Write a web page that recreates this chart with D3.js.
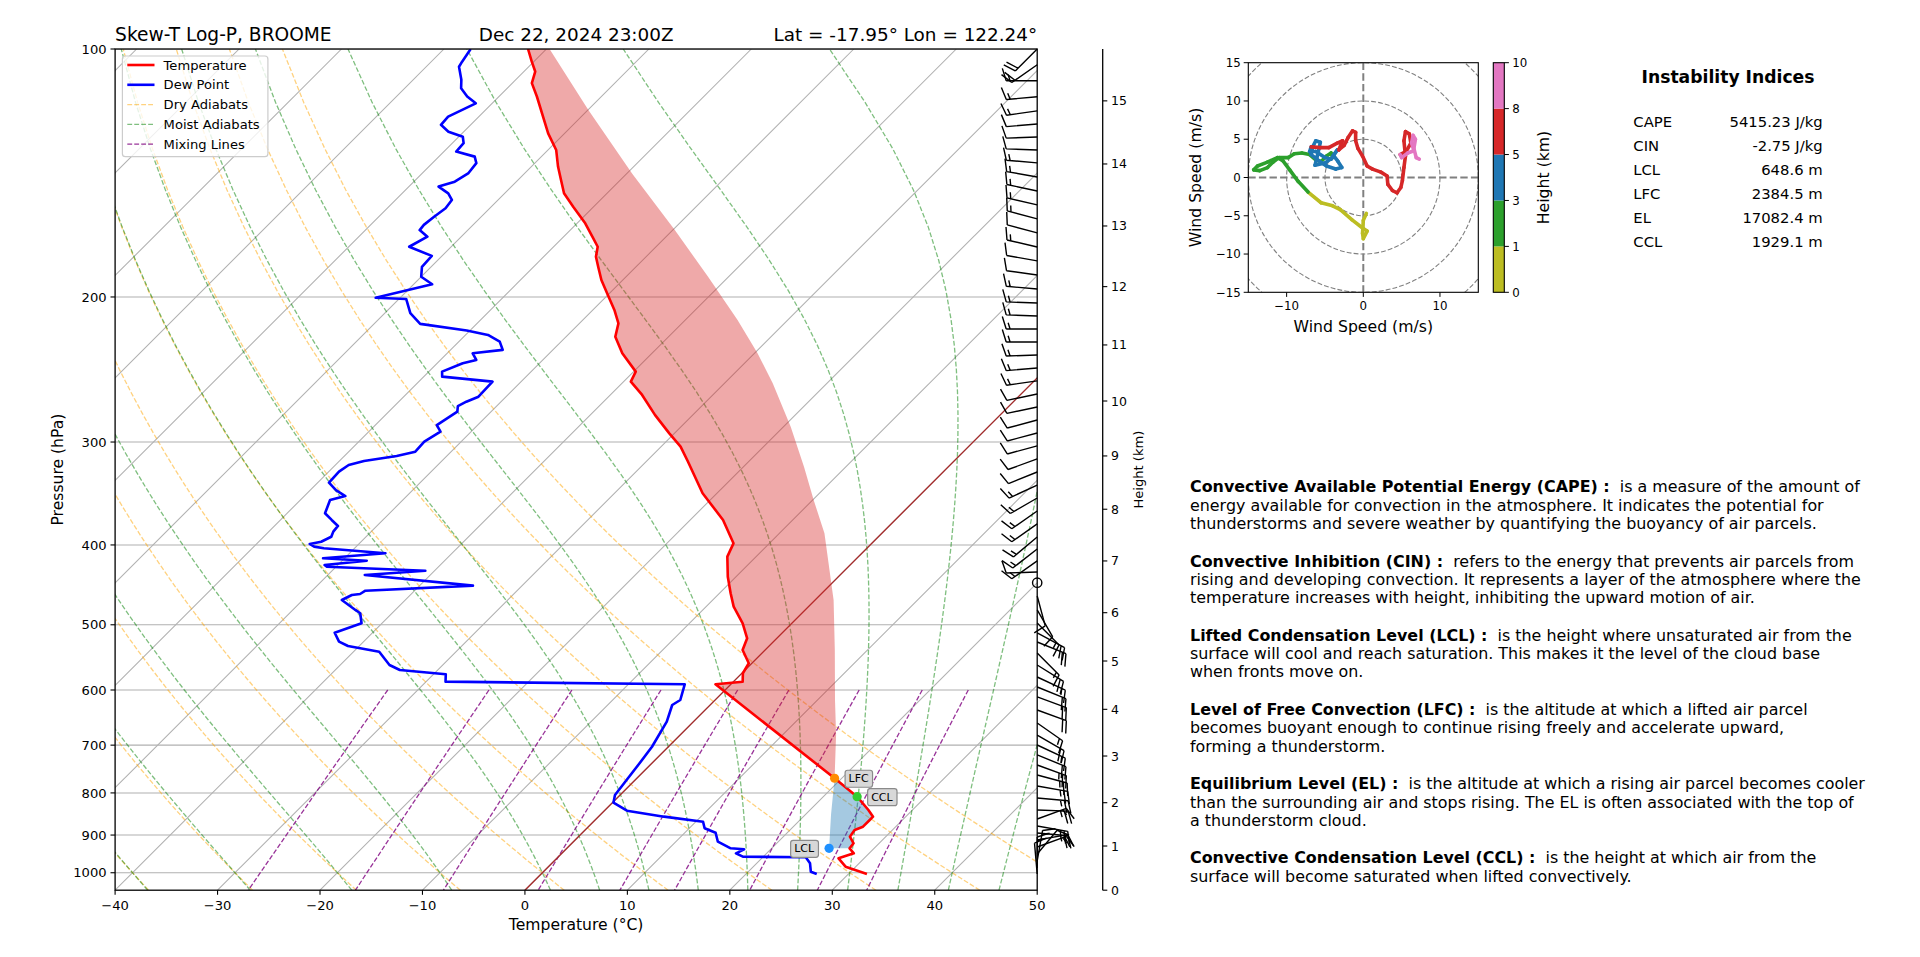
<!DOCTYPE html>
<html><head><meta charset="utf-8">
<script src="https://cdn.jsdelivr.net/npm/d3@7"></script>
<style>body{margin:0;background:#fff} svg text{font-family:"DejaVu Sans",sans-serif;fill:#000}</style>
</head><body>
<svg id="c" width="1920" height="957" xmlns="http://www.w3.org/2000/svg"></svg>
<script>
// ================= DATA =================
const tempP = [1003.5,983.2,960.5,947.1,934.0,921.0,904.2,887.3,879.2,862.9,854.9,839.2,808.5,767.9,590.5,586.2,572.6,556.8,536.5,519.2,497.9,475.3,457.9,437.1,413.3,398.2,373.0,346.2,317.0,303.9,292.8,278.1,263.0,253.4,246.4,234.1,223.5,215.3,207.4,198.9,190.7,183.8,178.7,173.8,169.0,162.8,155.4,149.7,144.2,138.9,132.6,126.6,114.2,110.0,106.5,103.6,100.0];
const tempT = [31.8,29.0,27.5,28.5,27.6,27.5,26.5,26.3,26.8,26.8,26.8,25.7,23.3,19.3,-1.5,0.9,0.1,-0.3,-2.2,-2.9,-4.8,-7.3,-8.9,-10.8,-12.8,-13.5,-16.8,-21.4,-25.9,-28.1,-30.5,-33.7,-36.9,-39.3,-39.8,-42.9,-45.2,-46.2,-47.9,-50.0,-52.1,-53.7,-54.9,-55.7,-57.2,-59.2,-62.0,-64.2,-65.8,-67.4,-69.2,-71.6,-76.3,-78.1,-78.9,-80.2,-81.8];

const dewP = [1003.5,997.1,973.9,957.7,956.1,947.1,936.6,934.0,916.9,894.1,883.2,867.0,854.9,840.8,822.2,804.7,736.4,703.1,655.6,625.7,617.0,590.5,586.2,574.2,567.4,559.5,539.1,530.6,524.2,511.2,497.9,484.2,479.7,466.5,460.1,458.8,454.6,448.2,435.0,429.9,425.1,423.0,418.0,415.2,409.4,403.7,401.9,398.9,396.4,390.9,385.4,379.3,373.0,366.1,352.8,348.9,343.1,336.1,325.9,319.9,316.3,311.9,308.2,299.7,291.4,286.1,275.6,271.3,268.0,264.3,253.4,249.9,246.4,240.7,238.5,234.1,231.9,226.6,222.4,219.7,215.6,209.3,201.1,200.4,193.0,189.0,183.8,178.3,173.8,169.0,165.9,163.5,159.8,156.1,152.5,149.7,146.9,144.9,141.6,137.6,135.1,133.2,130.1,127.8,126.0,123.6,120.8,116.4,114.2,111.6,109.0,105.1,103.6,100.0];
const dewT = [26.9,26.1,25.2,24.2,18.0,17.0,17.4,16.0,14.1,13.0,11.5,10.7,6.4,2.2,0.1,-0.5,-1.2,-1.6,-2.6,-3.7,-3.4,-4.5,-28.1,-28.8,-33.7,-35.2,-37.5,-41.1,-42.4,-43.7,-42.0,-43.1,-43.9,-46.2,-45.7,-45.0,-44.8,-34.8,-46.4,-40.9,-50.9,-51.3,-47.6,-52.1,-46.5,-53.0,-54.1,-54.8,-53.9,-53.4,-53.7,-53.8,-55.0,-56.3,-57.1,-56.0,-57.5,-58.9,-59.0,-58.7,-57.6,-54.9,-53.5,-53.6,-53.0,-54.0,-53.3,-53.8,-53.4,-52.7,-52.8,-58.2,-58.7,-57.5,-56.5,-57.5,-54.9,-56.0,-57.8,-60.3,-65.5,-67.5,-69.3,-72.4,-68.2,-70.0,-70.9,-71.0,-74.1,-73.3,-74.7,-74.8,-74.6,-74.3,-74.5,-75.5,-77.1,-76.0,-75.5,-75.7,-76.5,-78.8,-78.9,-79.6,-81.5,-82.9,-83.0,-81.6,-83.1,-84.5,-85.3,-86.8,-87.0,-87.4];

const parcelP = [1003.5,934.0,850.0,767.9,680.0,617.0,536.5,466.5,387.2,352.8,321.4,287.4,254.5,234.1,213.3,189.0,165.9,141.6,118.5,100.0];
const parcelT = [31.8,25.6,22.5,19.3,15.2,11.7,6.8,1.8,-5.6,-9.9,-14.1,-19.3,-25.3,-29.7,-34.9,-42.0,-49.8,-59.5,-70.0,-79.7];

const levelNames = ["LCL","LFC","CCL"];
const levelP = [934.0,767.9,808.5];
const levelT = [25.6,19.3,23.3];
const levelColors = ["#1e90ff","#ff8c00","#32cd32"];

const pTicks = [100,200,300,400,500,600,700,800,900,1000];
const tTicks = [-40,-30,-20,-10,0,10,20,30,40,50];
const isoT = [-130,-120,-110,-100,-90,-80,-70,-60,-50,-40,-30,-20,-10,0,10,20,30,40,50];
const dryT0 = [-40,-30,-20,-10,0,10,20,30,40,50];
const moistT0 = [-40,-30,-20,-10,0,5,10,15,20,25,30,35,40,45,50];
const mixRatios = [0.0004,0.001,0.002,0.004,0.007,0.01,0.016,0.024,0.032];

const heightTicks = [0,1,2,3,4,5,6,7,8,9,10,11,12,13,14,15];
const heightTickP = [1050,928.0,822.2,721.6,633.3,553.3,483.4,418.3,362.0,311.9,267.5,228.7,194.3,164.0,137.9,115.6];

const barbP = [100.0,104.5,109.3,114.3,118.9,123.3,127.9,132.6,137.5,143.0,148.7,154.6,160.8,167.2,173.9,180.8,188.1,195.6,203.4,210.9,218.7,226.8,235.2,243.9,252.9,262.3,272.0,282.1,292.5,303.3,314.5,326.2,338.3,350.8,363.8,377.2,391.2,404.5,418.3,431.4,444.5,461.3,479.7,497.5,511.6,524.7,541.0,559.5,578.6,595.0,611.8,634.5,658.0,680.5,699.7,719.5,739.9,760.9,784.7,811.5,839.2,860.5,877.5,894.8,912.5,930.5,948.9,967.7,986.8,1003.5];
const barbDir = [225,235,270,265,262,265,268,272,275,280,282,283,285,285,283,280,278,275,272,272,270,270,268,265,262,258,258,255,255,255,250,248,245,240,235,235,230,232,235,268,0,165,150,135,118,112,135,122,115,112,110,110,125,120,115,112,110,105,100,95,92,70,100,95,80,70,40,10,0,355];
const barbSpd = [20,20,15,15,15,10,10,10,15,15,15,15,15,10,15,10,10,15,15,15,15,15,15,15,15,10,10,10,10,10,10,10,15,15,15,15,15,15,15,10,0,10,10,15,20,20,15,20,15,20,20,20,15,20,15,20,25,25,25,25,25,15,25,25,20,15,10,15,15,10];

const hodoH = [0.0,0.1,0.2,0.3,0.4,0.5,0.6,0.7,0.8,0.9,1.0,1.1,1.2,1.3,1.4,1.5,1.6,1.7,1.8,1.9,2.0,2.1,2.2,2.3,2.4,2.5,2.6,2.7,2.8,2.9,3.0,3.1,3.2,3.3,3.4,3.5,3.6,3.7,3.8,3.9,4.0,4.1,4.2,4.3,4.4,4.5,4.6,4.7,4.8,5.0,5.1,5.2,5.3,5.4,5.5,5.6,5.7,5.8,5.9,6.0,6.1,6.2,6.3,6.4,6.5,6.6,6.7,6.8,6.9,7.0,7.1,7.2,7.3,7.4,7.5,7.6,7.7,7.8,8.0,8.2,8.4,8.6,8.8,9.0,9.2,9.4,9.6,9.8];
const hodoU = [0.4,0.0,-0.1,0.0,0.5,-0.1,-1.5,-3.0,-4.0,-5.5,-7.2,-8.5,-9.6,-10.5,-11.2,-12.5,-13.8,-14.3,-13.5,-12.5,-11.8,-11.0,-9.8,-9.0,-8.0,-7.0,-6.2,-5.5,-4.8,-4.2,-4.0,-5.0,-6.3,-6.0,-5.6,-6.2,-6.6,-6.8,-5.8,-4.8,-3.6,-2.8,-3.3,-3.9,-3.4,-4.2,-5.0,-6.2,-7.0,-6.8,-5.6,-4.5,-3.4,-2.7,-3.2,-2.5,-2.0,-1.4,-1.0,-1.0,-0.7,-0.1,0.5,1.2,2.3,3.1,3.2,3.8,4.4,4.9,5.1,5.3,5.5,5.3,5.5,6.0,6.2,5.6,4.8,5.0,5.8,6.6,6.3,6.5,6.8,6.6,6.9,7.3];
const hodoV = [-4.7,-5.6,-7.3,-8.0,-7.0,-6.6,-5.5,-4.2,-3.7,-3.3,-1.9,-0.5,1.0,2.2,2.6,2.0,1.5,1.0,0.9,1.3,2.0,2.6,2.6,3.1,3.2,3.0,2.3,2.1,2.8,3.2,2.6,1.9,1.6,2.8,4.6,4.8,4.0,3.0,2.2,1.5,1.1,1.3,2.1,2.9,3.6,2.4,2.6,3.4,3.4,4.0,3.9,3.9,4.5,4.8,3.6,4.2,5.2,6.1,5.9,4.8,3.8,2.8,1.5,1.1,0.7,0.2,-0.9,-1.7,-2.0,-1.3,-0.4,1.3,2.8,4.8,6.0,5.7,4.5,3.4,3.0,2.6,3.2,3.5,4.5,5.5,5.0,3.8,2.6,2.4];
const hodoBounds = [0,1,3,5,8,10];
const hodoColors = ["#bcbd22","#2ca02c","#1f77b4","#d62728","#e377c2"];
const hodoTicksX = [-10,0,10];
const hodoTicksY = [-15,-10,-5,0,5,10,15];
const hodoRings = [5,10,15,20];

const indexNames = ["CAPE","CIN","LCL","LFC","EL","CCL"];
const indexValues = ["5415.23 J/kg","-2.75 J/kg","648.6 m","2384.5 m","17082.4 m","1929.1 m"];

const descriptions = [
  {b:"Convective Available Potential Energy (CAPE) :", lines:["  is a measure of the amount of","energy available for convection in the atmosphere. It indicates the potential for","thunderstorms and severe weather by quantifying the buoyancy of air parcels."]},
  {b:"Convective Inhibition (CIN) :", lines:["  refers to the energy that prevents air parcels from","rising and developing convection. It represents a layer of the atmosphere where the","temperature increases with height, inhibiting the upward motion of air."]},
  {b:"Lifted Condensation Level (LCL) :", lines:["  is the height where unsaturated air from the","surface will cool and reach saturation. This makes it the level of the cloud base","when fronts move on."]},
  {b:"Level of Free Convection (LFC) :", lines:["  is the altitude at which a lifted air parcel","becomes buoyant enough to continue rising freely and accelerate upward,","forming a thunderstorm."]},
  {b:"Equilibrium Level (EL) :", lines:["  is the altitude at which a rising air parcel becomes cooler","than the surrounding air and stops rising. The EL is often associated with the top of","a thunderstorm cloud."]},
  {b:"Convective Condensation Level (CCL) :", lines:["  is the height at which air from the","surface will become saturated when lifted convectively."]}
];

// ================= LAYOUT =================
const svg = d3.select("#c");
const PL=115.1, PR=1037.2, PT=49, PB=890.2;
const x = d3.scaleLinear().domain([-40,50]).range([PL,PR]);
const y = d3.scaleLog().domain([1050,100]).range([PB,PT]);
const X = (T,p) => x(T) + (PB - y(p));

svg.append("defs").append("clipPath").attr("id","plotclip")
  .append("rect").attr("x",PL).attr("y",PT).attr("width",PR-PL).attr("height",PB-PT);
const plot = svg.append("g").attr("clip-path","url(#plotclip)");

const line = d3.line().x(d=>X(d[1],d[0])).y(d=>y(d[0]));
const pz = (P,T)=>P.map((p,i)=>[p,T[i]]);

// isotherms
isoT.forEach(t=>{
  plot.append("line").attr("x1",X(t,1050)).attr("y1",PB).attr("x2",X(t,100)).attr("y2",PT)
    .attr("stroke","#b0b0b0").attr("stroke-width",1.05);
});
// pressure grid
pTicks.forEach(p=>{
  plot.append("line").attr("x1",PL).attr("x2",PR).attr("y1",y(p)).attr("y2",y(p))
    .attr("stroke","#b0b0b0").attr("stroke-width",1.05);
});

// sample pressures for reference curves
const pLev = d3.range(0,60).map(i=>1050 - i*(950/59));
// dry adiabats
dryT0.forEach(t0=>{
  const pts = pLev.map(p=>[p,(t0+273.15)*Math.pow(p/1000,0.28571)-273.15]);
  plot.append("path").attr("d",line(pts)).attr("fill","none").attr("stroke","orange")
    .attr("stroke-opacity",0.5).attr("stroke-width",1.31).attr("stroke-dasharray","4.85,2.1");
});
// moist adiabats
const Rd=287.04749, Cp=1004.6662, Lv=2.50084e6, eps=0.6219569;
function fm(p,T){const es=6.112*Math.exp(17.67*(T-273.15)/(T-29.65));const rs=eps*es/(p-es);return (Rd*T+Lv*rs)/(Cp+Lv*Lv*rs*eps/(Rd*T*T))/p;}
function integ(T,p0,p1){const n=Math.max(1,Math.ceil(Math.abs(p1-p0)/3));const h=(p1-p0)/n;let p=p0;for(let i=0;i<n;i++){const k1=fm(p,T),k2=fm(p+h/2,T+h/2*k1),k3=fm(p+h/2,T+h/2*k2),k4=fm(p+h,T+h*k3);T+=h/6*(k1+2*k2+2*k3+k4);p+=h;}return T;}
moistT0.forEach(t0=>{
  const pts = pLev.map(p=>[p,integ(t0+273.15,1000,p)-273.15]);
  plot.append("path").attr("d",line(pts)).attr("fill","none").attr("stroke","green")
    .attr("stroke-opacity",0.5).attr("stroke-width",1.31).attr("stroke-dasharray","4.85,2.1");
});
// mixing lines
const pMix = d3.range(0,30).map(i=>600 + i*(450/29));
mixRatios.forEach(w=>{
  const pts = pMix.map(p=>{const e=p*w/(eps+w);const v=Math.log(e/6.112);return [p,243.5*v/(17.67-v)];});
  plot.append("path").attr("d",line(pts)).attr("fill","none").attr("stroke","purple")
    .attr("stroke-opacity",0.8).attr("stroke-width",1.31).attr("stroke-dasharray","4.85,2.1");
});
// 0 degC isotherm
plot.append("line").attr("x1",X(0,1050)).attr("y1",PB).attr("x2",X(0,100)).attr("y2",PT)
  .attr("stroke","#a52a2a").attr("stroke-width",1.31);

// CAPE / CIN shading
const lfcP = levelP[1], lclP = levelP[0];
const capeA = pz(parcelP,parcelT).filter(d=>d[0]<=lfcP);
const capeB = pz(tempP,tempT).filter(d=>d[0]<=lfcP).reverse();
plot.append("path").attr("d",d3.line().curve(d3.curveLinear).x(d=>X(d[1],d[0])).y(d=>y(d[0]))(capeA.concat(capeB))+"Z").attr("fill","#d62728").attr("fill-opacity",0.4);
const cinA = pz(parcelP,parcelT).filter(d=>d[0]<=lclP && d[0]>=lfcP);
const cinB = pz(tempP,tempT).filter(d=>d[0]<=lclP && d[0]>=lfcP).reverse();
plot.append("path").attr("d",line(cinA.concat(cinB))+"Z").attr("fill","#1f77b4").attr("fill-opacity",0.4);

// profiles
plot.append("path").attr("d",line(pz(tempP,tempT))).attr("fill","none").attr("stroke","red").attr("stroke-width",2.6).attr("stroke-linejoin","round");
plot.append("path").attr("d",line(pz(dewP,dewT))).attr("fill","none").attr("stroke","blue").attr("stroke-width",2.6).attr("stroke-linejoin","round");

// level markers
levelNames.forEach((nm,i)=>{
  const cx=X(levelT[i],levelP[i]), cy=y(levelP[i]);
  svg.append("circle").attr("cx",cx).attr("cy",cy).attr("r",4.6).attr("fill",levelColors[i]);
  const left = nm==="LCL";
  const g = svg.append("g");
  const t = g.append("text").attr("x", left? cx-15 : cx+14).attr("y",cy+4).attr("font-size",11)
    .attr("text-anchor", left?"end":"start").text(nm);
  const bb = t.node().getBBox();
  g.insert("rect","text").attr("x",bb.x-3.5).attr("y",bb.y-2).attr("width",bb.width+7).attr("height",bb.height+4)
    .attr("rx",2.5).attr("fill","#d8d8d8").attr("stroke","#8a8a8a").attr("stroke-width",1.2);
});

// spines
svg.append("rect").attr("x",PL).attr("y",PT).attr("width",PR-PL).attr("height",PB-PT)
  .attr("fill","none").attr("stroke","#000").attr("stroke-width",1.3);

// axes ticks
pTicks.forEach(p=>{
  svg.append("line").attr("x1",PL-4.6).attr("x2",PL).attr("y1",y(p)).attr("y2",y(p)).attr("stroke","#000").attr("stroke-width",1.1);
  svg.append("text").attr("x",PL-8.5).attr("y",y(p)+4.7).attr("text-anchor","end").attr("font-size",13.1).text(p);
});
tTicks.forEach(t=>{
  svg.append("line").attr("x1",x(t)).attr("x2",x(t)).attr("y1",PB).attr("y2",PB+4.6).attr("stroke","#000").attr("stroke-width",1.1);
  svg.append("text").attr("x",x(t)).attr("y",PB+19.5).attr("text-anchor","middle").attr("font-size",13.1).text(String(t).replace("-","\u2212"));
});
svg.append("text").attr("x",(PL+PR)/2).attr("y",930).attr("text-anchor","middle").attr("font-size",15.6).text("Temperature (°C)");
svg.append("text").attr("transform",`translate(63,${(PT+PB)/2}) rotate(-90)`).attr("text-anchor","middle").attr("font-size",15.6).text("Pressure (hPa)");

// titles
svg.append("text").attr("x",PL).attr("y",40.5).attr("font-size",18.6).text("Skew-T Log-P, BROOME");
svg.append("text").attr("x",(PL+PR)/2).attr("y",40.5).attr("text-anchor","middle").attr("font-size",18.4).text("Dec 22, 2024 23:00Z");
svg.append("text").attr("x",PR).attr("y",40.5).attr("text-anchor","end").attr("font-size",18.4).text("Lat = -17.95° Lon = 122.24°");

// legend
const lg = svg.append("g");
lg.append("rect").attr("x",122.4).attr("y",56).attr("width",145.5).attr("height",100.7).attr("rx",3)
  .attr("fill","#fff").attr("fill-opacity",0.8).attr("stroke","#cccccc").attr("stroke-width",1.2);
const legItems = [
  {n:"Temperature",c:"red",o:1,w:2.6,d:null},
  {n:"Dew Point",c:"blue",o:1,w:2.6,d:null},
  {n:"Dry Adiabats",c:"orange",o:0.5,w:1.31,d:"4.85,2.1"},
  {n:"Moist Adiabats",c:"green",o:0.5,w:1.31,d:"4.85,2.1"},
  {n:"Mixing Lines",c:"purple",o:0.8,w:1.31,d:"4.85,2.1"}];
legItems.forEach((it,i)=>{
  const cy = 65 + i*19.8;
  const l = lg.append("line").attr("x1",127.3).attr("x2",154.5).attr("y1",cy).attr("y2",cy)
    .attr("stroke",it.c).attr("stroke-opacity",it.o).attr("stroke-width",it.w);
  if(it.d) l.attr("stroke-dasharray",it.d);
  lg.append("text").attr("x",163.6).attr("y",cy+4.6).attr("font-size",13.1).text(it.n);
});

// wind barbs
const bg = svg.append("g");
function barb(bx,by,spd,dir){
  const L=31, Hh=0.4*L, Ww=0.25*L, sp=0.125*L;
  const mag = 5*Math.floor(spd/5+0.5);
  if(mag<5){
    bg.append("circle").attr("cx",bx).attr("cy",by).attr("r",0.15*L).attr("fill","none").attr("stroke","#000").attr("stroke-width",1.4);
    return;
  }
  const r = dir*Math.PI/180;
  const sx=Math.sin(r), sy=-Math.cos(r);
  const px=Math.cos(r), py=Math.sin(r);
  const nflag=Math.floor(mag/50); const rem=mag-50*nflag;
  const nbarb=Math.floor(rem/10); const half=(rem-10*nbarb)>=5;
  let d=`M${bx},${by}L${bx+sx*L},${by+sy*L}`;
  let off=L;
  for(let i=0;i<nflag;i++){
    const ax=bx+sx*off, ay=by+sy*off;
    d+=`M${ax},${ay}L${ax+px*Hh-sx*Ww/2},${ay+py*Hh-sy*Ww/2}L${ax-sx*Ww},${ay-sy*Ww}Z`;
    off-=Ww+sp;
  }
  for(let i=0;i<nbarb;i++){
    const ax=bx+sx*off, ay=by+sy*off;
    d+=`M${ax},${ay}L${ax+px*Hh+sx*Ww/2},${ay+py*Hh+sy*Ww/2}`;
    off-=sp;
  }
  if(half){
    if(off===L) off-=1.5*sp;
    const ax=bx+sx*off, ay=by+sy*off;
    d+=`M${ax},${ay}L${ax+px*Hh/2+sx*Ww/4},${ay+py*Hh/2+sy*Ww/4}`;
  }
  bg.append("path").attr("d",d).attr("fill",nflag?"#000":"none").attr("stroke","#000").attr("stroke-width",1.4);
}
barbP.forEach((p,i)=>barb(PR,y(p),barbSpd[i],barbDir[i]));

// height axis
const HX=1102.7;
svg.append("line").attr("x1",HX).attr("x2",HX).attr("y1",PT).attr("y2",PB).attr("stroke","#000").attr("stroke-width",1.3);
heightTicks.forEach((h,i)=>{
  const yy=y(heightTickP[i]);
  svg.append("line").attr("x1",HX).attr("x2",HX+4.6).attr("y1",yy).attr("y2",yy).attr("stroke","#000").attr("stroke-width",1.1);
  svg.append("text").attr("x",HX+8.3).attr("y",yy+4.5).attr("font-size",12.5).text(h);
});
svg.append("text").attr("transform",`translate(1143,${(PT+PB)/2}) rotate(-90)`).attr("text-anchor","middle").attr("font-size",13.1).text("Height (km)");

// ================= HODOGRAPH =================
const HL=1248.3, HR=1478.3, HT=62.7, HB=292.3;
const hx = d3.scaleLinear().domain([-15,15]).range([HL,HR]);
const hy = d3.scaleLinear().domain([-15,15]).range([HB,HT]);
svg.select("defs").append("clipPath").attr("id","hodoclip").append("rect").attr("x",HL).attr("y",HT).attr("width",HR-HL).attr("height",HB-HT);
const hg = svg.append("g").attr("clip-path","url(#hodoclip)");
hodoRings.forEach(r=>{
  hg.append("ellipse").attr("cx",hx(0)).attr("cy",hy(0)).attr("rx",hx(r)-hx(0)).attr("ry",hy(0)-hy(r))
    .attr("fill","none").attr("stroke","#808080").attr("stroke-width",1.1).attr("stroke-dasharray","4.85,2.1");
});
hg.append("line").attr("x1",HL).attr("x2",HR).attr("y1",hy(0)).attr("y2",hy(0)).attr("stroke","#808080").attr("stroke-width",2).attr("stroke-dasharray","7.4,3.2");
hg.append("line").attr("y1",HT).attr("y2",HB).attr("x1",hx(0)).attr("x2",hx(0)).attr("stroke","#808080").attr("stroke-width",2).attr("stroke-dasharray","7.4,3.2");
const hcol = d3.scaleThreshold().domain(hodoBounds.slice(1,-1)).range(hodoColors);
for(let i=0;i<hodoH.length-1;i++){
  hg.append("line").attr("x1",hx(hodoU[i])).attr("y1",hy(hodoV[i])).attr("x2",hx(hodoU[i+1])).attr("y2",hy(hodoV[i+1]))
    .attr("stroke",hcol(hodoH[i])).attr("stroke-width",3.6).attr("stroke-linecap","round");
}
svg.append("rect").attr("x",HL).attr("y",HT).attr("width",HR-HL).attr("height",HB-HT).attr("fill","none").attr("stroke","#000").attr("stroke-width",1.1);
hodoTicksX.forEach(t=>{
  svg.append("line").attr("x1",hx(t)).attr("x2",hx(t)).attr("y1",HB).attr("y2",HB+4.6).attr("stroke","#000");
  svg.append("text").attr("x",hx(t)).attr("y",HB+18).attr("text-anchor","middle").attr("font-size",11.8).text(String(t).replace("-","\u2212"));
});
hodoTicksY.forEach(t=>{
  svg.append("line").attr("x1",HL-4.6).attr("x2",HL).attr("y1",hy(t)).attr("y2",hy(t)).attr("stroke","#000");
  svg.append("text").attr("x",HL-7.5).attr("y",hy(t)+4.2).attr("text-anchor","end").attr("font-size",11.8).text(String(t).replace("-","\u2212"));
});
svg.append("text").attr("x",(HL+HR)/2).attr("y",331.5).attr("text-anchor","middle").attr("font-size",15.7).text("Wind Speed (m/s)");
svg.append("text").attr("transform",`translate(1201,${(HT+HB)/2}) rotate(-90)`).attr("text-anchor","middle").attr("font-size",15.7).text("Wind Speed (m/s)");

// colorbar
const CL=1493.3, CW=11;
const cy = d3.scaleLinear().domain([0,hodoColors.length]).range([HB,HT]);
hodoColors.forEach((c,i)=>{
  svg.append("rect").attr("x",CL).attr("y",cy(i+1)).attr("width",CW).attr("height",cy(i)-cy(i+1)).attr("fill",c);
});
svg.append("rect").attr("x",CL).attr("y",HT).attr("width",CW).attr("height",HB-HT).attr("fill","none").attr("stroke","#000").attr("stroke-width",1.1);
hodoBounds.forEach((b,i)=>{
  svg.append("line").attr("x1",CL+CW).attr("x2",CL+CW+4.6).attr("y1",cy(i)).attr("y2",cy(i)).attr("stroke","#000");
  svg.append("text").attr("x",CL+CW+8).attr("y",cy(i)+4.2).attr("font-size",11.8).text(b);
});
svg.append("text").attr("transform",`translate(1549,${(HT+HB)/2}) rotate(-90)`).attr("text-anchor","middle").attr("font-size",15.7).text("Height (km)");

// ================= INDICES =================
svg.append("text").attr("x",1728).attr("y",82.7).attr("text-anchor","middle").attr("font-size",17.2).attr("font-weight","bold").text("Instability Indices");
indexNames.forEach((n,i)=>{
  const yy = 127.3 + i*24;
  svg.append("text").attr("x",1633.3).attr("y",yy).attr("font-size",14.8).text(n);
  svg.append("text").attr("x",1822.7).attr("y",yy).attr("text-anchor","end").attr("font-size",14.8).text(indexValues[i]);
});

// descriptions
const DX=1190; let dy0=492.4;
descriptions.forEach((d,i)=>{
  const base = dy0 + i*74.2;
  const t = svg.append("text").attr("x",DX).attr("y",base).attr("font-size",15.9).attr("xml:space","preserve").style("white-space","pre");
  t.append("tspan").attr("font-weight","bold").text(d.b);
  t.append("tspan").text(d.lines[0]);
  d.lines.slice(1).forEach((ln,j)=>{
    svg.append("text").attr("x",DX).attr("y",base+(j+1)*18.3).attr("font-size",15.9).text(ln);
  });
});
</script>
</body></html>
